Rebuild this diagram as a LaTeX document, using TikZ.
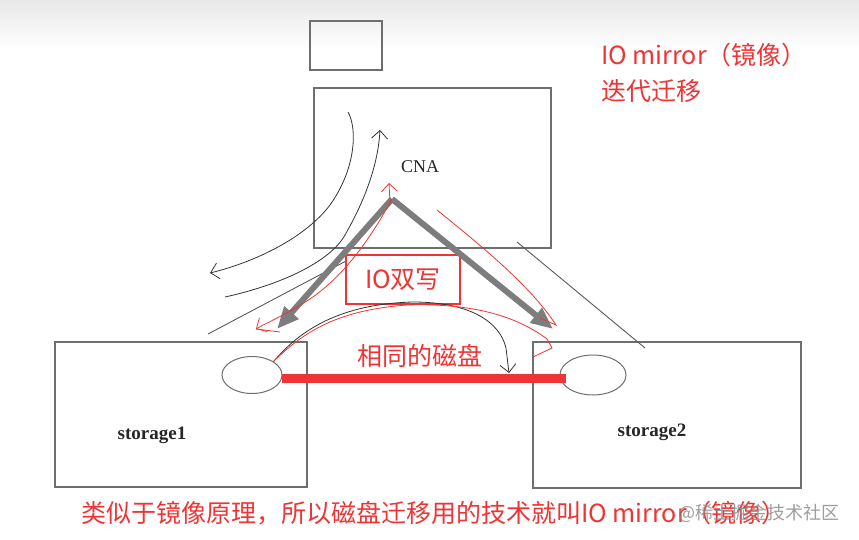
\documentclass[tikz,border=0pt]{standalone}
\usepackage{fontspec}
\setmainfont{Liberation Serif}
\newfontfamily\cjk{Noto Sans CJK SC}
\usetikzlibrary{arrows.meta,shapes.geometric}
\definecolor{redtxt}{RGB}{238,52,52}
\definecolor{boxgray}{RGB}{110,110,110}
\definecolor{arrgray}{RGB}{125,125,125}
\begin{document}
\begin{tikzpicture}[x=1pt,y=-1pt,
  box/.style={draw=boxgray,line width=1.3pt,inner sep=0pt,outer sep=0pt},
  disk/.style={draw=boxgray,line width=1pt,ellipse,inner sep=0pt,outer sep=0pt},
  lbl/.style={text=black!85,inner sep=0pt},
  redt/.style={text=redtxt,inner sep=0pt,font=\cjk\fontsize{25}{30}\selectfont},
  bigarrow/.style={draw=arrgray,line width=6pt,-{Triangle[length=22pt,width=18pt]}},
  thinline/.style={draw=black!65,line width=0.9pt},
  pen/.style={draw=black!80,line width=0.8pt},
  redpen/.style={draw=redtxt,line width=0.8pt},
  barb/.style={-{Straight Barb[length=8pt,width=16pt,line width=0.8pt]}}
]
\useasboundingbox (0,0) rectangle (859,540);
\shade[top color=black!9,bottom color=white] (0,0) rectangle (859,50);

% boxes
\node[box,minimum width=72pt,minimum height=49pt] (small) at (346,45.5) {};
\node[box,minimum width=237pt,minimum height=160pt] (cna) at (432.5,168) {};
\node[box,minimum width=252pt,minimum height=145pt] (st1) at (181,414.5) {};
\node[box,minimum width=268pt,minimum height=146pt] (st2) at (667,415) {};
\node[disk,minimum width=60pt,minimum height=37pt] (disk1) at (252,375) {};
\node[disk,minimum width=66pt,minimum height=40pt] (disk2) at (593,375) {};

% labels
\node[lbl,font=\fontsize{18}{20}\selectfont] (cnalbl) at (420,167) {CNA};
\node[lbl,font=\bfseries\fontsize{19}{22}\selectfont] (s1lbl) at (152,435) {storage1};
\node[lbl,font=\bfseries\fontsize{19}{22}\selectfont] (s2lbl) at (652,432) {storage2};

% thin straight lines
\coordinate (ll1) at (208,334);
\coordinate (ll2) at (346,261);
\coordinate (rl1) at (517,242);
\coordinate (rl2) at (645,348);
\draw[thinline] (ll1) -- (ll2);
\draw[thinline] (rl1) -- (rl2);

% IO dual write box
\node[draw=redtxt,line width=1.8pt,minimum width=114pt,minimum height=49pt,redt] (dual) at (403,279.5) {IO双写};

% gray arrows
\coordinate (apex) at (392,199);
\coordinate (tip1) at (277,329);
\coordinate (tip2) at (553,329);
\draw[bigarrow] (apex) -- (tip1);
\draw[bigarrow] (apex) -- (tip2);

% hand-drawn black curves
\coordinate (a0) at (348,112);
\coordinate (a1) at (210,273);
\draw[pen,barb] (a0) .. controls (358,130) and (355,170) .. (330,205)
  .. controls (305,238) and (255,262) .. (a1);
\coordinate (b0) at (225,297);
\coordinate (b1) at (380,130);
\draw[pen,barb] (b0) .. controls (280,285) and (330,262) .. (345,235)
  .. controls (365,200) and (378,165) .. (b1);
\coordinate (c1) at (509,373);
\draw[pen,barb] (disk1.north east) .. controls (300,330) and (340,304) .. (413,302)
  .. controls (470,302) and (500,322) .. (506,348) -- (c1);

% hand-drawn red curves
\coordinate (r0) at (389,183);
\coordinate (r1) at (256,329);
\coordinate (r1b) at (280,332);
\draw[redpen,barb] (apex) .. controls (375,230) and (345,280) .. (300,305)
  .. controls (285,315) and (268,322) .. (r1);
\draw[redpen] (r1) -- (r1b);
\draw[redpen,barb] ([xshift=-2pt,yshift=-4pt]apex) -- (r0);
\coordinate (r2) at (437,210);
\coordinate (r3) at (556,325);
\coordinate (r3b) at (540,318);
\draw[redpen] (r2) .. controls (480,245) and (530,285) .. (r3) -- (r3b);
\coordinate (r4) at (547,339);
\coordinate (r5) at (552,348);
\coordinate (r6) at (533,357);
\draw[redpen] (disk1.north east) .. controls (305,330) and (340,310) .. (407,305)
  .. controls (470,303) and (515,315) .. (r4) -- (r5) -- (r6);

% red disk line
\draw[draw=redtxt,line width=9pt] ([yshift=-3pt]disk1.east) -- ([xshift=6pt,yshift=-3pt]disk2.west);

% texts
\node[redt] (same) at (420,356) {相同的磁盘};
\node[redt,anchor=west] (title1) at (601,55) {IO mirror（镜像）};
\node[redt,anchor=west] (title2) at (601,91) {迭代迁移};
\node[redt,anchor=west] (bottom) at (81,513) {类似于镜像原理，所以磁盘迁移用的技术就叫IO mirror（镜像）};
\node[text=black!45,opacity=0.85,inner sep=0pt,anchor=east,font=\cjk\fontsize{18}{20}\selectfont] (wm) at (840,513) {@稀土掘金技术社区};
\end{tikzpicture}
\end{document}
